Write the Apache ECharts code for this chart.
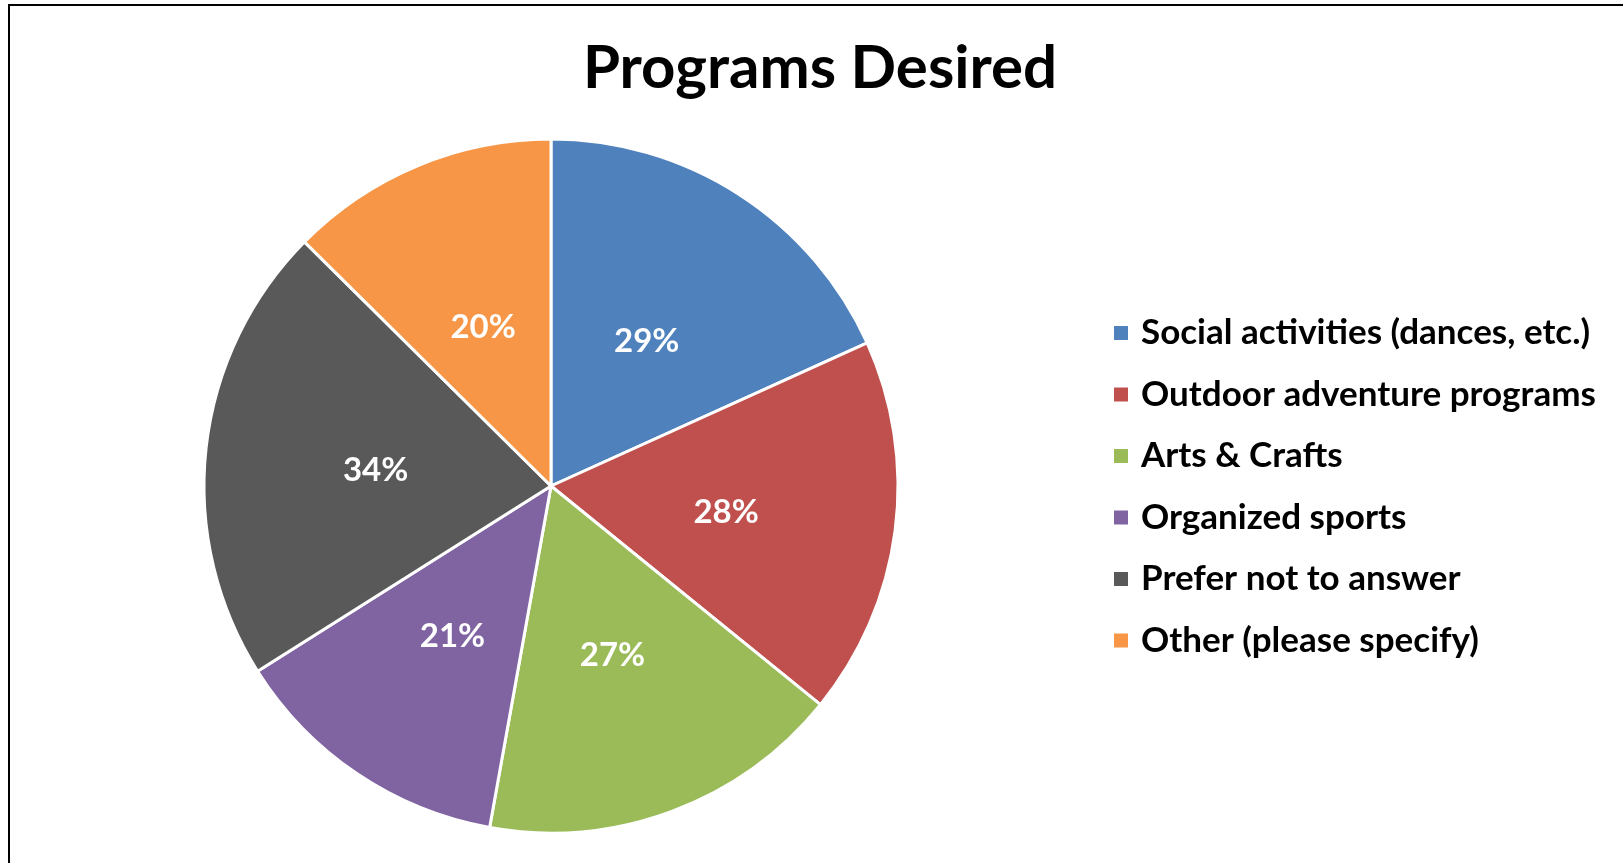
<!DOCTYPE html>
<html>
<head>
<meta charset="utf-8">
<script src="https://cdn.jsdelivr.net/npm/echarts@6/dist/echarts.min.js"></script>
<style>
html, body { margin: 0; padding: 0; background: #fff; }
#main { width: 1623px; height: 863px; }
</style>
</head>
<body>
<div id="main"></div>
<script>
var categories = ['Social activities (dances, etc.)', 'Outdoor adventure programs', 'Arts & Crafts', 'Organized sports', 'Prefer not to answer', 'Other (please specify)'];
var values = [29, 28, 27, 21, 34, 20];
var colors = ['#4F81BD', '#C0504D', '#9BBB59', '#8064A2', '#595959', '#F79646'];

var pieData = [];
for (var i = 0; i < categories.length; i++) {
	pieData.push({ name: categories[i], value: values[i], itemStyle: { color: colors[i] } });
}

var myChart = echarts.init(document.getElementById('main'));
var option = {
	backgroundColor: '#fff',
	animation: false,
	title: {
		text: 'Programs Desired',
		left: 815,
		top: 34,
		textAlign: 'center',
		textStyle: { fontFamily: 'Lato', fontWeight: 'bold', fontSize: 60, color: '#000' }
	},
	legend: {
		orient: 'vertical',
		left: 1107,
		top: 308,
		itemWidth: 16,
		itemHeight: 16,
		itemGap: 21.5,
		icon: 'rect',
		textStyle: { fontFamily: 'Lato', fontWeight: 'bold', fontSize: 35, color: '#000', lineHeight: 40, padding: [0, 0, 0, 7] },
		data: categories
	},
	graphic: [{
		type: 'rect',
		shape: { x: 9, y: 5, width: 3000, height: 3000 },
		style: { fill: 'none', stroke: '#000', lineWidth: 2 },
		silent: true
	}],
	series: [{
		type: 'pie',
		center: [551, 486],
		radius: 347,
		startAngle: 90,
		clockwise: true,
		itemStyle: { borderColor: '#fff', borderWidth: 3 },
		label: {
			position: 'inside',
			formatter: '{c}%',
			color: '#fff',
			fontFamily: 'Lato',
			fontWeight: 'bold',
			fontSize: 33,
			offset: [0, 4]
		},
		labelLine: { show: false },
		emphasis: { disabled: true },
		data: pieData
	}]
};
myChart.setOption(option);
</script>
</body>
</html>
